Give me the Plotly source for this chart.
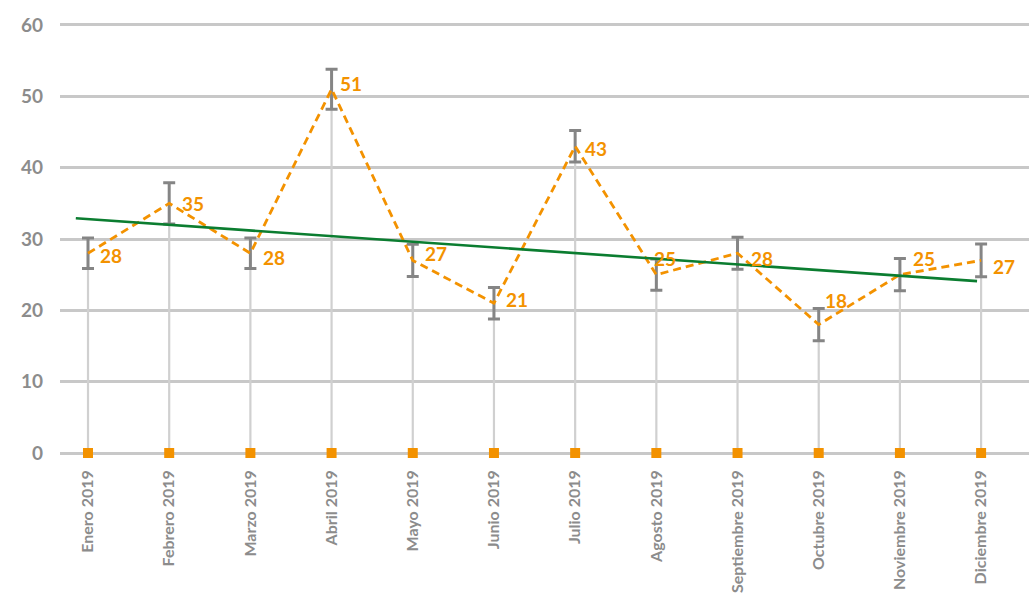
import plotly.graph_objects as go

# Monthly series for 2019
meses = ["Enero 2019", "Febrero 2019", "Marzo 2019", "Abril 2019", "Mayo 2019",
         "Junio 2019", "Julio 2019", "Agosto 2019", "Septiembre 2019",
         "Octubre 2019", "Noviembre 2019", "Diciembre 2019"]
valores = [28, 35, 28, 51, 27, 21, 43, 25, 28, 18, 25, 27]
error = [2.15, 2.9, 2.15, 2.8, 2.25, 2.2, 2.2, 2.2, 2.25, 2.25, 2.25, 2.3]
base = [0, 0, 0, 0, 0, 0, 0, 0, 0, 0, 0, 0]

# Linear trend line (start / end)
tendencia_x = [-0.15, 10.95]
tendencia_y = [32.9, 24.1]

y_ticks = [0, 10, 20, 30, 40, 50, 60]

NARANJA = "#F39200"
GRIS_TXT = "#8C8C8C"
GRIS_ERR = "#858585"
VERDE = "#0B7D30"

idx = list(range(len(meses)))

fig = go.Figure()

# drop lines from each point down to zero
fig.add_trace(go.Scatter(
    x=idx, y=valores, mode="markers",
    marker=dict(size=1, color="rgba(0,0,0,0)"),
    error_y=dict(type="data", symmetric=False, array=base, arrayminus=valores,
                 width=0, thickness=2.2, color="#D0D0D0"),
    hoverinfo="skip", showlegend=False,
))

# main dashed series with error bars
fig.add_trace(go.Scatter(
    x=idx, y=valores, mode="lines",
    line=dict(color=NARANJA, width=2.8, dash="8px,5px"),
    error_y=dict(type="data", array=error, width=6, thickness=3, color=GRIS_ERR),
    showlegend=False,
))

# zero-level markers
fig.add_trace(go.Scatter(
    x=idx, y=base, mode="markers",
    marker=dict(symbol="square", size=10, color=NARANJA),
    showlegend=False, cliponaxis=False,
))

# trend line
fig.add_trace(go.Scatter(
    x=tendencia_x, y=tendencia_y, mode="lines",
    line=dict(color=VERDE, width=2.6),
    showlegend=False,
))

# value labels, nudged off the line
desplaz = [(10, -2), (11, 0), (11, -4), (6, 6), (10, 7), (10, 4),
           (8, -2), (-4, 16), (11, -5), (4, 24), (11, 16), (10, -6)]
for i, v in enumerate(valores):
    dx, dy = desplaz[i]
    fig.add_annotation(
        x=i, y=v, text=f"<b>{v}</b>", showarrow=False,
        xanchor="left", yanchor="middle", xshift=dx, yshift=dy,
        font=dict(family="Lato, Arial, sans-serif", size=19, color=NARANJA),
    )

fig.update_layout(
    width=1029, height=597,
    margin=dict(l=60, r=0, t=21, b=140, autoexpand=False),
    paper_bgcolor="white", plot_bgcolor="white",
    font=dict(family="Lato, Arial, sans-serif", color=GRIS_TXT),
)

fig.update_xaxes(
    range=[-0.345, 11.59], tickmode="array", tickvals=idx, ticktext=meses,
    tickangle=-90, showgrid=False, zeroline=False, showline=False,
    automargin=False,
    tickfont=dict(size=16, color=GRIS_TXT, family="Lato, Arial, sans-serif",
                  weight="bold"),
    ticklabelstandoff=9,
)
fig.update_yaxes(
    range=[-0.56, 60.56], tickmode="array", tickvals=y_ticks,
    showgrid=True, gridcolor="#C8C8C8", gridwidth=2.5, zeroline=False, showline=False,
    automargin=False,
    tickfont=dict(size=19, color=GRIS_TXT, family="Lato, Arial, sans-serif", weight="bold"),
    ticklabelstandoff=16,
)

fig.write_html("out.html")
